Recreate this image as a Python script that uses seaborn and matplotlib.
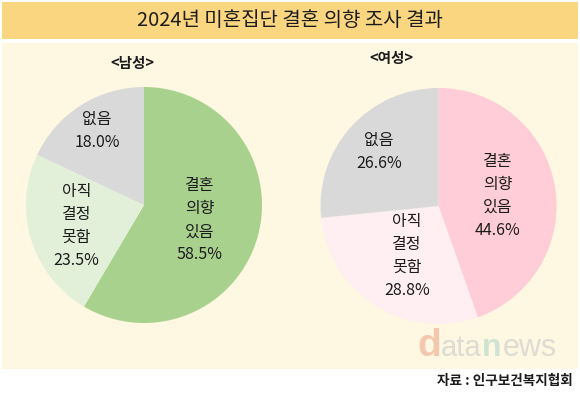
import numpy as np
import matplotlib
matplotlib.use("Agg")
import matplotlib.pyplot as plt
from matplotlib.patches import Rectangle
import seaborn as sns

# data
title = "2024년 미혼집단 결혼 의향 조사 결과"
groups = ["<남성>", "<여성>"]
categories = ["결혼\n의향\n있음", "아직\n결정\n못함", "없음"]
male_pct = [58.5, 23.5, 18.0]
female_pct = [44.6, 28.8, 26.6]
source = "자료 : 인구보건복지협회"

sns.set_theme(style="white")
plt.rcParams["font.family"] = ["Noto Sans CJK KR", "DejaVu Sans"]

male_colors = ["#A9D18E", "#E2F0D9", "#D9D9D9"]
female_colors = ["#FFCDD7", "#FFEFF2", "#D9D9D9"]
TXT = "#1c1c1c"

W, H = 580, 397
fig = plt.figure(figsize=(W / 100, H / 100), dpi=100)
fig.patch.set_facecolor("white")

# background panel in pixel coords
bg = fig.add_axes([0, 0, 1, 1])
bg.set_xlim(0, W)
bg.set_ylim(H, 0)
bg.axis("off")
bg.add_patch(Rectangle((2, 2), 576, 37, color="#F9D67F", lw=0))
bg.add_patch(Rectangle((2, 43), 576, 326, color="#FEF7E1", lw=0))
bg.text(290, 21, title, ha="center", va="center", fontsize=14.4, color=TXT)
bg.text(132, 63, groups[0], ha="center", va="center", fontsize=10.5, fontweight="bold", color=TXT)
bg.text(391, 58, groups[1], ha="center", va="center", fontsize=10.5, fontweight="bold", color=TXT)
bg.text(573, 381, source, ha="right", va="center", fontsize=9.8, fontweight="bold", color=TXT)

# faint watermark, pieces placed one after another
renderer = fig.canvas.get_renderer()
pieces = [("d", 28, "bold", "#F3C8AE"), ("ata", 21, "normal", "#DEDBD2"),
          ("n", 23, "bold", "#D0E3D3"), ("ews", 22, "normal", "#DEDBD2")]
x = 417
for s, fs, fw, c in pieces:
    t = bg.text(x, 356, s, fontsize=fs, fontweight=fw, color=c, va="baseline",
                family=["Liberation Sans", "DejaVu Sans"])
    x += t.get_window_extent(renderer).width + 0.5


def draw_pie(cx, cy, values, colors, label_r):
    r = 118
    ax = fig.add_axes([(cx - r) / W, 1 - (cy + r) / H, 2 * r / W, 2 * r / H])
    ax.patch.set_alpha(0)
    wedges, _ = ax.pie(values, colors=colors, startangle=90, counterclock=False,
                       wedgeprops=dict(linewidth=0))
    ax.set_xlim(-1, 1)
    ax.set_ylim(-1, 1)
    for w, cat, v, d in zip(wedges, categories, values, label_r):
        mid = np.deg2rad((w.theta1 + w.theta2) / 2)
        ax.text(d * np.cos(mid), d * np.sin(mid), f"{cat}\n{v:.1f}%",
                ha="center", va="center", fontsize=11.5, linespacing=1.45, color=TXT)


draw_pie(144, 205, male_pct, male_colors, [0.49, 0.60, 0.74])
draw_pie(438.5, 206, female_pct, female_colors, [0.51, 0.50, 0.68])

fig.savefig("out.png", dpi=100, facecolor=fig.get_facecolor())
